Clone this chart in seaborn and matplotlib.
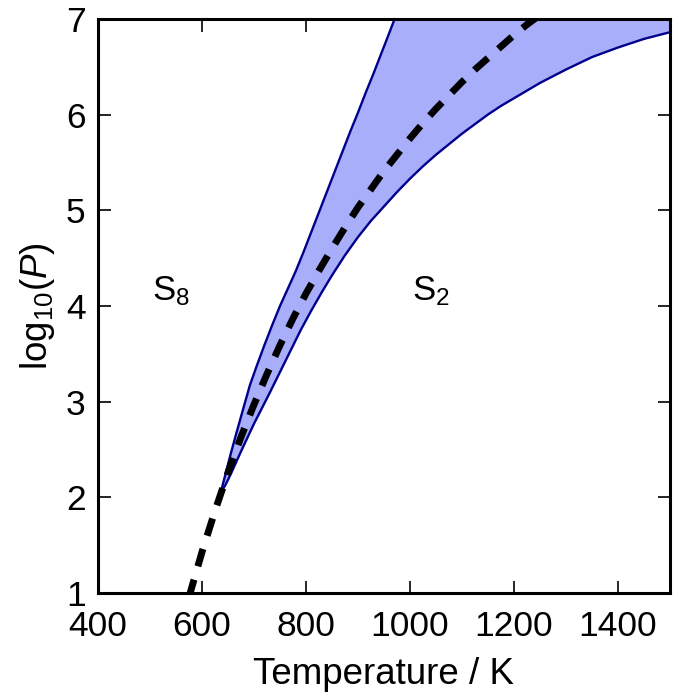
import numpy as np
import pandas as pd
import matplotlib
matplotlib.use("Agg")
import matplotlib.pyplot as plt
import seaborn as sns

# Upper (left) phase boundary
T_upper = [636, 645, 655, 665, 680, 692, 705, 720, 735, 750, 765, 780, 795, 810,
           825, 840, 855, 870, 885, 900, 915, 930, 945, 960, 972]
P_upper = [2.05, 2.24, 2.45, 2.65, 2.94, 3.17, 3.37, 3.59, 3.80, 4.00, 4.18, 4.36,
           4.56, 4.77, 4.98, 5.19, 5.40, 5.61, 5.82, 6.02, 6.23, 6.43, 6.64, 6.85, 7.02]

# Lower (right) phase boundary
T_lower = [636, 645, 655, 665, 675, 687, 700, 715, 730, 750, 770, 790, 810, 830,
           850, 875, 900, 925, 950, 975, 1000, 1025, 1050, 1075, 1100, 1125, 1150,
           1175, 1200, 1250, 1300, 1350, 1400, 1450, 1500]
P_lower = [2.05, 2.13, 2.24, 2.36, 2.48, 2.62, 2.77, 2.93, 3.09, 3.31, 3.53, 3.75,
           3.95, 4.14, 4.32, 4.53, 4.72, 4.89, 5.04, 5.19, 5.33, 5.46, 5.58, 5.69,
           5.80, 5.90, 6.00, 6.09, 6.17, 6.33, 6.47, 6.60, 6.70, 6.79, 6.86]

# Central (dashed) boundary
T_mid = [575, 600, 625, 650, 675, 700, 725, 750, 775, 800, 825, 850, 875, 900, 925,
         950, 975, 1000, 1025, 1050, 1075, 1100, 1125, 1150, 1175, 1200, 1225, 1250]
P_mid = [0.96, 1.43, 1.86, 2.26, 2.63, 2.97, 3.29, 3.59, 3.87, 4.13, 4.37, 4.60,
         4.82, 5.03, 5.22, 5.41, 5.58, 5.75, 5.91, 6.06, 6.20, 6.34, 6.47, 6.59,
         6.71, 6.83, 6.94, 7.04]

x_ticks = [400, 600, 800, 1000, 1200, 1400]
y_ticks = [1, 2, 3, 4, 5, 6, 7]
phase_labels = ["S$_8$", "S$_2$"]
label_T = [503, 1003]
label_P = [4.15, 4.15]

sns.set_style("ticks")
plt.rcParams['font.family'] = ['Liberation Sans', 'DejaVu Sans']
plt.rcParams['mathtext.fontset'] = 'custom'
plt.rcParams['mathtext.rm'] = 'Liberation Sans'
plt.rcParams['mathtext.it'] = 'Liberation Sans:italic'
plt.rcParams['text.color'] = 'black'
plt.rcParams['axes.labelcolor'] = 'black'
plt.rcParams['xtick.color'] = 'black'
plt.rcParams['ytick.color'] = 'black'

fig = plt.figure(figsize=(6.76, 6.97), dpi=100)
ax = fig.add_axes([0.145, 0.149, 0.846, 0.824])

line_col = '#00008B'
fill_col = '#a8aefa'

# fill region between the two boundaries
T_grid = np.union1d(T_upper, T_lower)
top = np.interp(T_grid, T_upper, P_upper, right=9.0)
bot = np.interp(T_grid, T_lower, P_lower)
ax.fill_between(T_grid, bot, top, color=fill_col, lw=0, zorder=1)

df_up = pd.DataFrame({"T": T_upper, "P": P_upper})
df_lo = pd.DataFrame({"T": T_lower, "P": P_lower})
df_mid = pd.DataFrame({"T": T_mid, "P": P_mid})

sns.lineplot(data=df_up, x="T", y="P", ax=ax, color=line_col, lw=1.7, sort=False, zorder=2)
sns.lineplot(data=df_lo, x="T", y="P", ax=ax, color=line_col, lw=1.7, sort=False, zorder=2)
sns.lineplot(data=df_mid, x="T", y="P", ax=ax, color='black', lw=5, sort=False, zorder=3)
ax.lines[-1].set_dashes([2.6, 2.0])
ax.lines[-1].set_dash_capstyle('butt')

for lab, tx, ty in zip(phase_labels, label_T, label_P):
    ax.text(tx, ty, lab, fontsize=25, ha='left', va='center', color='black')

ax.set_xlim(400, 1500)
ax.set_ylim(1, 7)
ax.set_xticks(x_ticks)
ax.set_yticks(y_ticks)
ax.tick_params(direction='in', top=True, right=True, length=9, width=1.2,
               labelsize=25.5, color='black', labelcolor='black')
ax.tick_params(axis='x', pad=12)
ax.tick_params(axis='y', pad=9)
for s in ax.spines.values():
    s.set_linewidth(2.2)
    s.set_color('black')
ax.set_xlabel("Temperature / K", fontsize=26.5, labelpad=10)
ax.set_ylabel("log$_{10}$($\\mathit{P}$)", fontsize=26.5, labelpad=6)

fig.savefig("out.png", dpi=100)
